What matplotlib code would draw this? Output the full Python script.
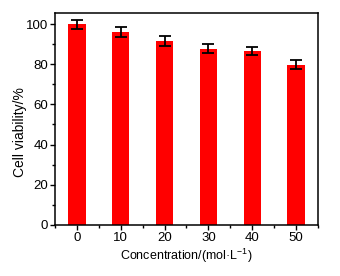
import matplotlib
matplotlib.use("Agg")
import matplotlib.pyplot as plt
from matplotlib.ticker import MultipleLocator

plt.rcParams['font.family'] = ['Liberation Sans', 'DejaVu Sans']
plt.rcParams['mathtext.fontset'] = 'custom'
plt.rcParams['mathtext.rm'] = 'Liberation Sans'
plt.rcParams['mathtext.default'] = 'regular'

concentration = [0, 10, 20, 30, 40, 50]
viability = [99.8, 96.0, 91.7, 87.8, 86.8, 79.8]
errors = [2.4, 2.3, 2.4, 2.3, 2.0, 2.2]

fig = plt.figure(figsize=(3.4, 2.76), dpi=100)
ax = fig.add_axes([0.162, 0.185, 0.773, 0.768])

ax.bar(concentration, viability, width=3.9, color='#ff0000',
       yerr=errors, capsize=4,
       error_kw=dict(ecolor='black', elinewidth=1.3, capthick=1.3))

ax.set_xlim(-5, 55)
ax.set_ylim(0, 105.5)
ax.xaxis.set_major_locator(MultipleLocator(10))
ax.xaxis.set_minor_locator(MultipleLocator(5))
ax.yaxis.set_major_locator(MultipleLocator(20))
ax.yaxis.set_minor_locator(MultipleLocator(10))
ax.tick_params(which='major', direction='out', length=3.5, width=1, labelsize=9.5, pad=1.5)
ax.tick_params(which='minor', direction='out', length=2, width=1)
for s in ax.spines.values():
    s.set_linewidth(1.1)

ax.set_xlabel('Concentration/(mol·L$^{-1}$)', fontsize=9, labelpad=2)
ax.set_ylabel('Cell viability/%', fontsize=10)
ax.yaxis.set_label_coords(-0.108, 0.44)

fig.savefig('out.png', dpi=100)
